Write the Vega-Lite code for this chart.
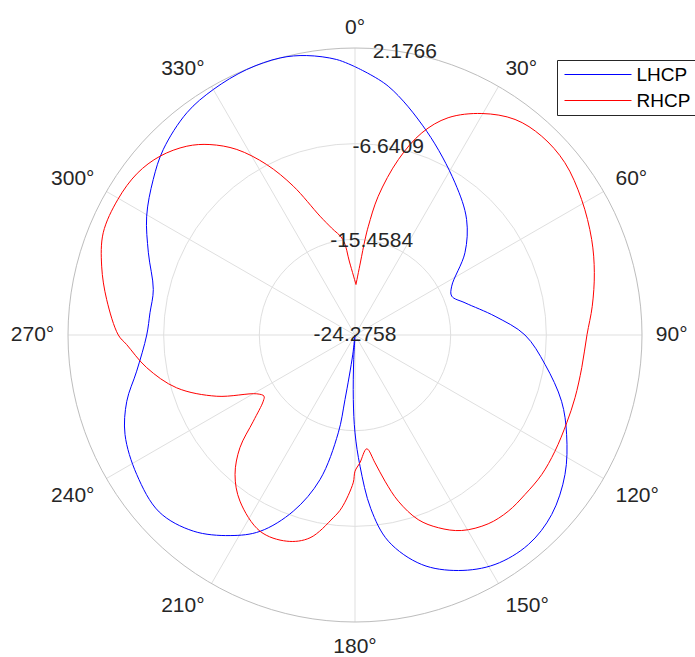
{
  "$schema": "https://vega.github.io/schema/vega-lite/v6.json",
  "width": 574,
  "height": 574,
  "autosize": "none",
  "padding": {"left": 68, "top": 48, "right": 53, "bottom": 35},
  "background": "white",
  "config": {"view": {"stroke": null}, "font": "Liberation Sans"},
  "datasets": {
    "pattern": [
      {"series": "LHCP", "a": 0, "db": 0.45},
      {"series": "LHCP", "a": 7.6, "db": -1.14},
      {"series": "LHCP", "a": 19.4, "db": -4.37},
      {"series": "LHCP", "a": 33.3, "db": -7.49},
      {"series": "LHCP", "a": 44.0, "db": -9.47},
      {"series": "LHCP", "a": 53.2, "db": -11.62},
      {"series": "LHCP", "a": 63.2, "db": -14.29},
      {"series": "LHCP", "a": 68.1, "db": -14.67},
      {"series": "LHCP", "a": 73.7, "db": -13.71},
      {"series": "LHCP", "a": 82.4, "db": -11.25},
      {"series": "LHCP", "a": 90, "db": -8.61},
      {"series": "LHCP", "a": 98.8, "db": -6.55},
      {"series": "LHCP", "a": 107.8, "db": -4.28},
      {"series": "LHCP", "a": 115.2, "db": -2.72},
      {"series": "LHCP", "a": 123.6, "db": -1.04},
      {"series": "LHCP", "a": 132.4, "db": 0.27},
      {"series": "LHCP", "a": 140.4, "db": 0.79},
      {"series": "LHCP", "a": 148.6, "db": 0.50},
      {"series": "LHCP", "a": 156.3, "db": -0.57},
      {"series": "LHCP", "a": 163.8, "db": -2.25},
      {"series": "LHCP", "a": 170.8, "db": -5.02},
      {"series": "LHCP", "a": 174.8, "db": -8.2},
      {"series": "LHCP", "a": 177.8, "db": -12.17},
      {"series": "LHCP", "a": 180, "db": -15.26},
      {"series": "LHCP", "a": 181.5, "db": -18.33},
      {"series": "LHCP", "a": 183, "db": -22.0},
      {"series": "LHCP", "a": 184.5, "db": -24.2758},
      {"series": "LHCP", "a": 186.5, "db": -22.5},
      {"series": "LHCP", "a": 188.8, "db": -18.26},
      {"series": "LHCP", "a": 189.7, "db": -15.13},
      {"series": "LHCP", "a": 193.6, "db": -10.57},
      {"series": "LHCP", "a": 199.3, "db": -7.07},
      {"series": "LHCP", "a": 205.8, "db": -4.18},
      {"series": "LHCP", "a": 211.9, "db": -2.50},
      {"series": "LHCP", "a": 219.5, "db": -0.85},
      {"series": "LHCP", "a": 227.9, "db": 0.05},
      {"series": "LHCP", "a": 237.4, "db": -0.40},
      {"series": "LHCP", "a": 246.6, "db": -1.18},
      {"series": "LHCP", "a": 253.8, "db": -2.37},
      {"series": "LHCP", "a": 260.6, "db": -3.88},
      {"series": "LHCP", "a": 270, "db": -5.08},
      {"series": "LHCP", "a": 276.2, "db": -5.27},
      {"series": "LHCP", "a": 282.7, "db": -5.22},
      {"series": "LHCP", "a": 291.7, "db": -3.78},
      {"series": "LHCP", "a": 299.7, "db": -2.17},
      {"series": "LHCP", "a": 307.6, "db": -0.80},
      {"series": "LHCP", "a": 314.1, "db": 0.32},
      {"series": "LHCP", "a": 322.9, "db": 1.41},
      {"series": "LHCP", "a": 330, "db": 1.85},
      {"series": "LHCP", "a": 337.8, "db": 2.15},
      {"series": "LHCP", "a": 344.9, "db": 2.1766},
      {"series": "LHCP", "a": 350.2, "db": 1.86},
      {"series": "LHCP", "a": 356.2, "db": 1.17},
      {"series": "LHCP", "a": 360, "db": 0.45},
      {"series": "RHCP", "a": 1.1, "db": -19.62},
      {"series": "RHCP", "a": 4.3, "db": -17.53},
      {"series": "RHCP", "a": 6.0, "db": -15.43},
      {"series": "RHCP", "a": 7.0, "db": -14.17},
      {"series": "RHCP", "a": 9.5, "db": -11.31},
      {"series": "RHCP", "a": 13.9, "db": -7.61},
      {"series": "RHCP", "a": 18.3, "db": -4.65},
      {"series": "RHCP", "a": 23.2, "db": -2.49},
      {"series": "RHCP", "a": 29.8, "db": -0.75},
      {"series": "RHCP", "a": 36.6, "db": 0.47},
      {"series": "RHCP", "a": 43.2, "db": 0.86},
      {"series": "RHCP", "a": 50.6, "db": 0.75},
      {"series": "RHCP", "a": 59.1, "db": 0.06},
      {"series": "RHCP", "a": 68.0, "db": -0.75},
      {"series": "RHCP", "a": 75.4, "db": -1.48},
      {"series": "RHCP", "a": 83.1, "db": -2.25},
      {"series": "RHCP", "a": 89.9, "db": -2.89},
      {"series": "RHCP", "a": 98.2, "db": -3.16},
      {"series": "RHCP", "a": 105.9, "db": -3.19},
      {"series": "RHCP", "a": 112.5, "db": -3.15},
      {"series": "RHCP", "a": 120.2, "db": -2.96},
      {"series": "RHCP", "a": 126.8, "db": -2.79},
      {"series": "RHCP", "a": 133.2, "db": -2.79},
      {"series": "RHCP", "a": 139.0, "db": -2.75},
      {"series": "RHCP", "a": 144.8, "db": -2.98},
      {"series": "RHCP", "a": 151.4, "db": -3.75},
      {"series": "RHCP", "a": 156.6, "db": -4.92},
      {"series": "RHCP", "a": 161.1, "db": -6.29},
      {"series": "RHCP", "a": 165.4, "db": -8.45},
      {"series": "RHCP", "a": 168.4, "db": -10.52},
      {"series": "RHCP", "a": 171.1, "db": -12.35},
      {"series": "RHCP", "a": 174.1, "db": -13.73},
      {"series": "RHCP", "a": 177.8, "db": -12.49},
      {"series": "RHCP", "a": 180, "db": -11.72},
      {"series": "RHCP", "a": 180.7, "db": -10.65},
      {"series": "RHCP", "a": 184.4, "db": -8.30},
      {"series": "RHCP", "a": 186.8, "db": -7.31},
      {"series": "RHCP", "a": 192.5, "db": -5.13},
      {"series": "RHCP", "a": 198.3, "db": -4.26},
      {"series": "RHCP", "a": 205.8, "db": -4.18},
      {"series": "RHCP", "a": 214.7, "db": -5.65},
      {"series": "RHCP", "a": 220.7, "db": -7.32},
      {"series": "RHCP", "a": 225.6, "db": -9.43},
      {"series": "RHCP", "a": 229.7, "db": -11.99},
      {"series": "RHCP", "a": 234.2, "db": -13.85},
      {"series": "RHCP", "a": 236.1, "db": -14.17},
      {"series": "RHCP", "a": 239.1, "db": -13.72},
      {"series": "RHCP", "a": 246.1, "db": -10.34},
      {"series": "RHCP", "a": 253.5, "db": -7.13},
      {"series": "RHCP", "a": 261.1, "db": -4.84},
      {"series": "RHCP", "a": 267.6, "db": -3.21},
      {"series": "RHCP", "a": 270, "db": -2.46},
      {"series": "RHCP", "a": 278.1, "db": -1.16},
      {"series": "RHCP", "a": 285.2, "db": -0.08},
      {"series": "RHCP", "a": 292.1, "db": 0.77},
      {"series": "RHCP", "a": 299.8, "db": 0.90},
      {"series": "RHCP", "a": 306.6, "db": 0.72},
      {"series": "RHCP", "a": 312.5, "db": 0.11},
      {"series": "RHCP", "a": 318.3, "db": -0.97},
      {"series": "RHCP", "a": 322.7, "db": -2.21},
      {"series": "RHCP", "a": 327.5, "db": -4.00},
      {"series": "RHCP", "a": 332.6, "db": -6.58},
      {"series": "RHCP", "a": 337.5, "db": -9.43},
      {"series": "RHCP", "a": 343.6, "db": -12.86},
      {"series": "RHCP", "a": 347.6, "db": -14.17},
      {"series": "RHCP", "a": 352.8, "db": -15.41},
      {"series": "RHCP", "a": 355.7, "db": -17.53},
      {"series": "RHCP", "a": 361.1, "db": -19.62}
    ],
    "spokes": [{"a": 0}, {"a": 30}, {"a": 60}, {"a": 90}, {"a": 120}, {"a": 150}, {"a": 180}, {"a": 210}, {"a": 240}, {"a": 270}, {"a": 300}, {"a": 330}],
    "rings": [{"v": -15.4584}, {"v": -6.6409}],
    "outer": [{"v": 2.1766}],
    "rticks": [
      {"t": "-24.2758", "v": -24.2758},
      {"t": "-15.4584", "v": -15.4584},
      {"t": "-6.6409", "v": -6.6409},
      {"t": "2.1766", "v": 2.1766}
    ]
  },
  "layer": [
    {
      "data": {"name": "rings"},
      "transform": [{"calculate": "(datum.v + 24.2758) / 26.4524", "as": "f"}, {"calculate": "0", "as": "c"}],
      "mark": {"type": "point", "shape": "circle", "filled": false, "stroke": "#dfdfdf", "strokeWidth": 1, "opacity": 1},
      "encoding": {
        "x": {"field": "c", "type": "quantitative", "scale": {"domain": [-1, 1], "nice": false, "zero": false}, "axis": null},
        "y": {"field": "c", "type": "quantitative", "scale": {"domain": [-1, 1], "nice": false, "zero": false}, "axis": null},
        "size": {"field": "f", "type": "quantitative", "scale": {"type": "pow", "exponent": 2, "domain": [0, 1], "range": [0, 329476]}, "legend": null}
      }
    },
    {
      "data": {"name": "spokes"},
      "transform": [
        {"calculate": "0", "as": "c"},
        {"calculate": "sin(datum.a * PI / 180)", "as": "x2"},
        {"calculate": "cos(datum.a * PI / 180)", "as": "y2"}
      ],
      "mark": {"type": "rule", "stroke": "#dfdfdf", "strokeWidth": 1},
      "encoding": {
        "x": {"field": "c", "type": "quantitative"},
        "y": {"field": "c", "type": "quantitative"},
        "x2": {"field": "x2"},
        "y2": {"field": "y2"}
      }
    },
    {
      "data": {"name": "outer"},
      "transform": [{"calculate": "(datum.v + 24.2758) / 26.4524", "as": "f"}, {"calculate": "0", "as": "c"}],
      "mark": {"type": "point", "shape": "circle", "filled": false, "stroke": "#bdbdbd", "strokeWidth": 1, "opacity": 1},
      "encoding": {
        "x": {"field": "c", "type": "quantitative"},
        "y": {"field": "c", "type": "quantitative"},
        "size": {"field": "f", "type": "quantitative", "scale": {"type": "pow", "exponent": 2, "domain": [0, 1], "range": [0, 329476]}, "legend": null}
      }
    },
    {
      "data": {"name": "pattern"},
      "transform": [
        {"calculate": "(datum.db + 24.2758) / 26.4524", "as": "f"},
        {"calculate": "datum.f * sin(datum.a * PI / 180)", "as": "px"},
        {"calculate": "datum.f * cos(datum.a * PI / 180)", "as": "py"}
      ],
      "mark": {"type": "line", "strokeWidth": 1, "interpolate": "catmull-rom"},
      "encoding": {
        "x": {"field": "px", "type": "quantitative"},
        "y": {"field": "py", "type": "quantitative"},
        "order": {"field": "a", "type": "quantitative"},
        "color": {
          "field": "series", "type": "nominal",
          "scale": {"domain": ["LHCP", "RHCP"], "range": ["#0000ff", "#ff0000"]},
          "legend": {
            "orient": "none", "legendX": 489, "legendY": 12, "title": null,
            "symbolType": "M-3.35,0H3.35", "symbolSize": 400, "symbolStrokeWidth": 1,
            "symbolOffset": 26.5, "labelOffset": 28, "rowPadding": 5,
            "labelFontSize": 19, "labelFont": "Liberation Sans", "labelColor": "#000000",
            "strokeColor": "#262626", "fillColor": "white", "padding": 4
          }
        }
      }
    },
    {
      "data": {"name": "spokes"},
      "transform": [
        {"calculate": "1.048 * sin(datum.a * PI / 180)", "as": "tx"},
        {"calculate": "1.048 * cos(datum.a * PI / 180)", "as": "ty"},
        {"calculate": "datum.a + '°'", "as": "lab"}
      ],
      "mark": {
        "type": "text", "fontSize": 21, "font": "Liberation Sans", "color": "#262626",
        "align": {"expr": "datum.a == 0 || datum.a == 180 ? 'center' : (datum.a < 180 ? 'left' : 'right')"},
        "baseline": {"expr": "datum.a == 90 || datum.a == 270 ? 'middle' : ((datum.a < 90 || datum.a > 270) ? 'alphabetic' : 'top')"}
      },
      "encoding": {
        "x": {"field": "tx", "type": "quantitative"},
        "y": {"field": "ty", "type": "quantitative"},
        "text": {"field": "lab"}
      }
    },
    {
      "data": {"name": "rticks"},
      "transform": [
        {"calculate": "(datum.v + 24.2758) / 26.4524", "as": "f"},
        {"calculate": "datum.f * sin(10 * PI / 180)", "as": "tx"},
        {"calculate": "datum.f * cos(10 * PI / 180)", "as": "ty"}
      ],
      "mark": {"type": "text", "fontSize": 21, "font": "Liberation Sans", "color": "#262626", "align": "center", "baseline": "middle"},
      "encoding": {
        "x": {"field": "tx", "type": "quantitative"},
        "y": {"field": "ty", "type": "quantitative"},
        "text": {"field": "t"}
      }
    }
  ]
}
